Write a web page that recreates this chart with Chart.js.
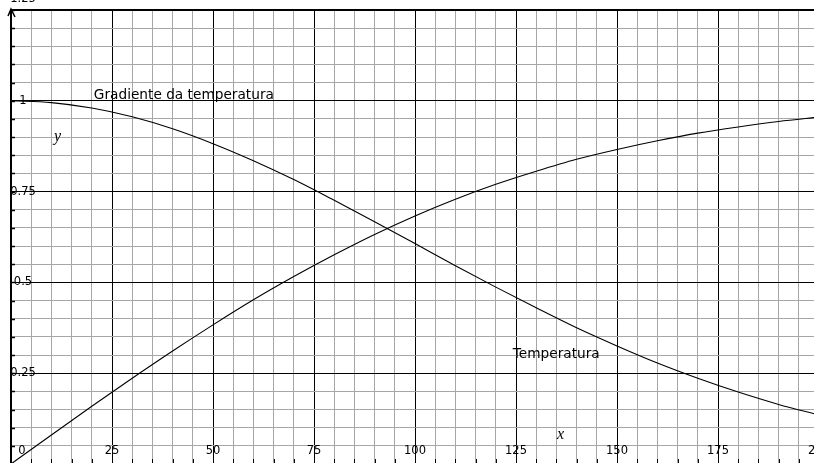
<!DOCTYPE html>
<html>
<head>
<meta charset="utf-8">
<script src="https://cdn.jsdelivr.net/npm/chart.js@4/dist/chart.umd.min.js"></script>
<style>
  html, body { margin: 0; padding: 0; background: #fff; overflow: hidden; width: 814px; height: 463px; }
  canvas { display: block; }
</style>
</head>
<body>
<canvas id="chart" width="830" height="470"></canvas>
<script>
// x positions of the sampled curve points
const xValues = [0, 10, 20, 30, 40, 50, 60, 70, 80, 90, 100,
  110, 120, 130, 140, 150, 160, 170, 180, 190, 200];

// "Gradiente da temperatura" (falling curve)
const gradiente = [1.000, 0.995, 0.980, 0.956, 0.923, 0.882, 0.835, 0.783, 0.726, 0.667, 0.607,
  0.546, 0.487, 0.430, 0.375, 0.325, 0.278, 0.236, 0.198, 0.164, 0.135];

// "Temperatura" (rising curve)
const temperatura = [0.000, 0.080, 0.159, 0.236, 0.311, 0.383, 0.452, 0.516, 0.576, 0.632, 0.683,
  0.729, 0.770, 0.806, 0.839, 0.866, 0.890, 0.911, 0.928, 0.943, 0.955];

const xTickLabels = ['0', '25', '50', '75', '100', '125', '150', '175', '200'];
const yTickLabels = ['0.25', '0.5', '0.75', '1', '1.25'];

function pts(ys) {
  return xValues.map((x, i) => ({ x: x, y: ys[i] }));
}

// fine grid: every 5 in x, every 0.05 in y
const xGrid = [];
for (let i = 0; i <= 40; i++) xGrid.push(i * 5);
const yGrid = [];
for (let i = 0; i <= 25; i++) yGrid.push(Math.round(i * 5) / 100);

const isMajor = (v, step) => Math.abs(v / step - Math.round(v / step)) < 1e-6;

const decorations = {
  id: 'decorations',
  afterDraw(chart) {
    const c = chart.ctx;
    const xs = chart.scales.x, ys = chart.scales.y;
    const area = chart.chartArea;
    c.save();
    c.fillStyle = '#000';
    c.strokeStyle = '#000';

    // small tick marks along the left axis and bottom
    c.lineWidth = 1.5;
    yGrid.forEach(v => {
      const py = Math.round(ys.getPixelForValue(v)) + 0.5;
      c.beginPath(); c.moveTo(area.left, py); c.lineTo(area.left + 4, py); c.stroke();
    });
    c.lineWidth = 1;
    xGrid.forEach(v => {
      const px = Math.round(xs.getPixelForValue(v)) + 0.5;
      c.beginPath(); c.moveTo(px, 459); c.lineTo(px, 463); c.stroke();
    });

    // tick labels drawn inside the plot
    c.font = '11.5px "DejaVu Sans"';
    c.textAlign = 'center';
    c.textBaseline = 'middle';
    yTickLabels.forEach(t => {
      const v = parseFloat(t);
      let py = ys.getPixelForValue(v);
      if (v === 1.25) py -= 11;
      c.fillText(t, area.left + 12, py);
    });
    xTickLabels.forEach(t => {
      const v = parseFloat(t);
      let px = xs.getPixelForValue(v);
      if (v === 0) px += 11;
      c.fillText(t, px, 451);
    });

    // curve labels
    c.font = '13.7px "DejaVu Sans"';
    c.textAlign = 'left';
    c.fillText('Gradiente da temperatura', xs.getPixelForValue(20.5), ys.getPixelForValue(1.016));
    c.fillText('Temperatura', xs.getPixelForValue(124.2), ys.getPixelForValue(0.301));

    // axis names
    c.font = 'italic 16px "Liberation Serif"';
    c.textAlign = 'center';
    c.fillText('y', xs.getPixelForValue(11.5), ys.getPixelForValue(0.9));
    c.fillText('x', xs.getPixelForValue(136), ys.getPixelForValue(0.08));

    // arrow head at the top of the y axis
    c.lineWidth = 1.5;
    c.beginPath();
    c.moveTo(area.left - 3, area.top + 6);
    c.lineTo(area.left, area.top - 1);
    c.lineTo(area.left + 4, area.top + 7);
    c.stroke();
    c.restore();
  }
};

new Chart(document.getElementById('chart'), {
  type: 'line',
  data: {
    datasets: [
      {
        label: 'Gradiente da temperatura',
        data: pts(gradiente),
        borderColor: '#000',
        borderWidth: 1.1,
        pointRadius: 0,
        cubicInterpolationMode: 'monotone',
        fill: false
      },
      {
        label: 'Temperatura',
        data: pts(temperatura),
        borderColor: '#000',
        borderWidth: 1.1,
        pointRadius: 0,
        cubicInterpolationMode: 'monotone',
        fill: false
      }
    ]
  },
  options: {
    responsive: false,
    animation: false,
    layout: { padding: { left: 11, right: 11, top: 10, bottom: 6 } },
    plugins: {
      legend: { display: false },
      tooltip: { enabled: false }
    },
    scales: {
      x: {
        type: 'linear',
        min: 0,
        max: 200,
        afterBuildTicks: axis => { axis.ticks = xGrid.map(v => ({ value: v })); },
        ticks: { display: false, autoSkip: false },
        border: { display: false },
        grid: {
          drawTicks: false,
          color: ctx => isMajor(ctx.tick.value, 25) ? '#000' : '#a6a6a6',
          lineWidth: ctx => ctx.tick.value === 0 ? 2 : 1
        }
      },
      y: {
        type: 'linear',
        min: 0,
        max: 1.25,
        afterBuildTicks: axis => { axis.ticks = yGrid.map(v => ({ value: v })); },
        ticks: { display: false, autoSkip: false },
        border: { display: true, color: '#000', width: 2 },
        grid: {
          drawTicks: false,
          color: ctx => isMajor(ctx.tick.value, 0.25) ? '#000' : '#a6a6a6',
          lineWidth: ctx => ctx.tick.value === 1.25 ? 2 : 1
        }
      }
    }
  },
  plugins: [decorations]
});
</script>
</body>
</html>
